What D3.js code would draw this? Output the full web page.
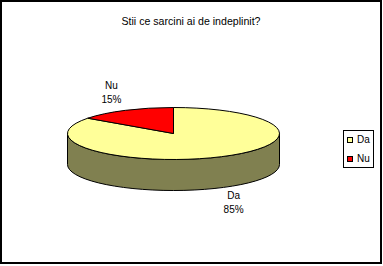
<!DOCTYPE html>
<html>
<head>
<meta charset="utf-8">
<script src="https://cdn.jsdelivr.net/npm/d3@7"></script>
<style>
  body { margin: 0; background: #fff; }
  svg { display: block; font-family: Arial, "Liberation Sans", sans-serif; }
</style>
</head>
<body>
<div id="chart"></div>
<script>
// data
var categories = ['Da', 'Nu'];
var values = [85, 15];
var labels = ['Da', 'Nu'];
var percents = ['85%', '15%'];
var title = 'Stii ce sarcini ai de indeplinit?';

var W = 383, H = 266;
var colors = d3.scaleOrdinal().domain(categories).range(['#ffff99', '#ff0000']);
var sideColors = d3.scaleOrdinal().domain(categories).range(['#808050', '#800000']);

// pie geometry
var cx = 173.5, cy = 133.5, rx = 106, ry = 26, depth = 31;

var svg = d3.select('#chart').append('svg')
  .attr('width', W)
  .attr('height', H);

svg.append('rect')
  .attr('width', W).attr('height', H)
  .attr('fill', '#fff');

svg.append('rect')
  .attr('x', 1).attr('y', 1)
  .attr('width', W - 3).attr('height', H - 4)
  .attr('fill', 'none')
  .attr('stroke', '#000')
  .attr('stroke-width', 2);

svg.append('text')
  .attr('x', 191).attr('y', 25)
  .attr('text-anchor', 'middle')
  .attr('font-size', 10.6)
  .text(title);

var pie = d3.pie().sort(null).value(function(d){ return d; });
var arcs = pie(values);

function px(a, k){ return cx + (k || 1) * rx * Math.sin(a); }
function py(a, k){ return cy - (k || 1) * ry * Math.cos(a); }

// side walls (only the front half, angles between PI/2 and 3PI/2)
var g = svg.append('g');
arcs.forEach(function(d, i){
  var a0 = Math.max(d.startAngle, Math.PI / 2);
  var a1 = Math.min(d.endAngle, Math.PI * 1.5);
  if (a1 <= a0) return;
  var p = 'M' + px(a0) + ',' + py(a0) +
    'A' + rx + ',' + ry + ' 0 0,1 ' + px(a1) + ',' + py(a1) +
    'L' + px(a1) + ',' + (py(a1) + depth) +
    'A' + rx + ',' + ry + ' 0 0,0 ' + px(a0) + ',' + (py(a0) + depth) + 'Z';
  g.append('path')
    .attr('d', p)
    .attr('fill', sideColors(categories[i]))
    .attr('stroke', '#000')
    .attr('stroke-width', 1);
});

// top face
var arc = d3.arc().innerRadius(0).outerRadius(rx);
g.append('g')
  .attr('transform', 'translate(' + cx + ',' + cy + ') scale(1,' + (ry / rx) + ')')
  .selectAll('path')
  .data(arcs)
  .enter().append('path')
  .attr('d', arc)
  .attr('fill', function(d, i){ return colors(categories[i]); })
  .attr('stroke', '#000')
  .attr('stroke-width', 1)
  .attr('vector-effect', 'non-scaling-stroke');

// data labels
arcs.forEach(function(d, i){
  var mid = (d.startAngle + d.endAngle) / 2;
  var x = px(mid, 1.27) - 1;
  var y = py(mid, 1.27);
  var front = Math.cos(mid) < 0;
  var top = front ? y + depth + 5 : y - 15;
  var t = svg.append('text')
    .attr('text-anchor', 'middle')
    .attr('font-size', 10);
  t.append('tspan').attr('x', x).attr('y', top).text(labels[i]);
  t.append('tspan').attr('x', x).attr('y', top + 14).text(percents[i]);
});

// legend
var lg = svg.append('g').attr('transform', 'translate(343.5,130.5)');
lg.append('rect')
  .attr('width', 30).attr('height', 37)
  .attr('fill', '#fff')
  .attr('stroke', '#000')
  .attr('stroke-width', 1);
var items = lg.selectAll('g.item')
  .data(categories)
  .enter().append('g')
  .attr('class', 'item')
  .attr('transform', function(d, i){ return 'translate(4,' + (7 + i * 19) + ')'; });
items.append('rect')
  .attr('width', 5).attr('height', 5)
  .attr('fill', function(d){ return colors(d); })
  .attr('stroke', '#000')
  .attr('stroke-width', 1);
items.append('text')
  .attr('x', 9.5).attr('y', 5.5)
  .attr('font-size', 10)
  .text(function(d){ return d; });
</script>
</body>
</html>
